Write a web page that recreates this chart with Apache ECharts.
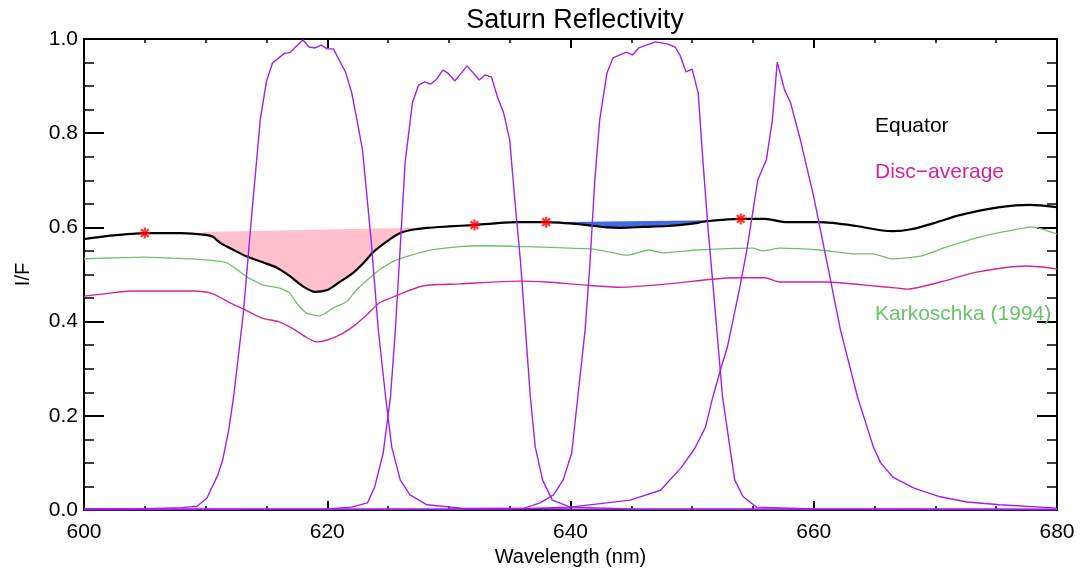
<!DOCTYPE html>
<html>
<head>
<meta charset="utf-8">
<title>Saturn Reflectivity</title>
<script src="https://cdn.jsdelivr.net/npm/echarts@6/dist/echarts.min.js"></script>
<style>
  html, body { margin: 0; padding: 0; background: #fff; }
  #chart { width: 1091px; height: 570px; }
</style>
</head>
<body>
<div id="chart"></div>
<script>
// ---- data: [wavelength (nm), I/F] ----
const equator = [
  [600, 0.575], [602, 0.582], [605, 0.588], [608, 0.588], [610, 0.584], [610.6, 0.580],
  [611.2, 0.567], [612.3, 0.552], [613.4, 0.538], [614.7, 0.526], [615.9, 0.514], [616.9, 0.497],
  [618.0, 0.475], [619.0, 0.463], [620.0, 0.467], [620.9, 0.482], [622.1, 0.503], [623.0, 0.525],
  [623.8, 0.548], [625.0, 0.572], [626.0, 0.588], [627.0, 0.595], [628.2, 0.599], [630.0, 0.602],
  [632.0, 0.605], [634.0, 0.609], [635.6, 0.611], [638.0, 0.611], [641.0, 0.606], [643.0, 0.600],
  [644.1, 0.599], [646.0, 0.601], [648.0, 0.603], [650.0, 0.608], [651.2, 0.613], [654.0, 0.618],
  [656.0, 0.618], [657.8, 0.611], [660.5, 0.611], [663.5, 0.603], [665.5, 0.594], [666.5, 0.592],
  [668.0, 0.596], [670.0, 0.610], [672.0, 0.626], [675.3, 0.643], [677.8, 0.648], [680, 0.643]
];

const discAverage = [
  [600, 0.454], [602, 0.460], [603.8, 0.465], [609.0, 0.465], [610.6, 0.459], [612.0, 0.440],
  [613.4, 0.423], [614.7, 0.407], [616.0, 0.400], [617.1, 0.386], [618.2, 0.368], [619.1, 0.357],
  [620.0, 0.361], [621.2, 0.374], [622.3, 0.393], [623.4, 0.418], [624.3, 0.440], [625.4, 0.452],
  [627.9, 0.476], [630.9, 0.480], [635.9, 0.486], [638.0, 0.484], [641.0, 0.478], [644.1, 0.473],
  [648.0, 0.480], [651.7, 0.490], [653.9, 0.493], [656.0, 0.493], [657.2, 0.484], [661.1, 0.484],
  [664.0, 0.478], [666.9, 0.471], [667.7, 0.469], [670.4, 0.484], [673.4, 0.505], [677.5, 0.518],
  [680, 0.512]
];

const karkoschka = [
  [600, 0.533], [602, 0.535], [604.9, 0.537], [607, 0.535], [610.1, 0.531], [611.8, 0.524],
  [613.4, 0.495], [614.7, 0.478], [616.1, 0.471], [616.9, 0.461], [617.5, 0.439], [618.3, 0.418],
  [619.4, 0.412], [620.5, 0.429], [621.6, 0.442], [622.4, 0.467], [623.5, 0.493], [624.3, 0.510],
  [625.7, 0.531], [628.2, 0.550], [630.9, 0.559], [633.0, 0.561], [636.4, 0.559], [639.0, 0.557],
  [641.9, 0.554], [644.7, 0.541], [646.4, 0.552], [647.6, 0.546], [650.4, 0.552], [655.0, 0.556],
  [655.8, 0.550], [657.2, 0.556], [660.5, 0.552], [663.2, 0.544], [664.9, 0.544], [666.4, 0.533],
  [668.8, 0.539], [671.0, 0.559], [673.4, 0.578], [675.9, 0.592], [678.0, 0.601], [680, 0.586]
];

// filter transmission curves (normalised)
const filter1 = [
  [600, 0.003], [605, 0.003], [608, 0.005], [609.3, 0.008], [610.1, 0.025], [611.0, 0.074],
  [611.4, 0.106], [611.9, 0.170], [612.3, 0.240], [613.1, 0.418], [613.8, 0.630], [614.5, 0.830],
  [615.0, 0.910], [615.5, 0.949], [616.5, 0.970], [616.9, 0.971], [618.0, 0.998], [618.5, 0.983],
  [619.0, 0.981], [619.5, 0.987], [620.0, 0.979], [620.5, 0.979], [621.5, 0.930], [622.0, 0.887],
  [622.4, 0.834], [622.9, 0.764], [623.6, 0.575], [624.2, 0.382], [624.8, 0.240], [625.3, 0.134],
  [626.0, 0.064], [626.8, 0.032], [628.2, 0.011], [631.0, 0.004], [640, 0.002], [680, 0.001]
];
const filter2 = [
  [600, 0.001], [620, 0.002], [622, 0.006], [623.3, 0.015], [623.9, 0.049], [624.6, 0.121],
  [625.2, 0.240], [625.6, 0.382], [626.0, 0.558], [626.4, 0.737], [627.0, 0.864], [627.5, 0.902],
  [628.0, 0.909], [628.5, 0.904], [629.0, 0.915], [629.5, 0.934], [629.9, 0.928], [630.5, 0.911],
  [631.5, 0.943], [632.5, 0.913], [633.0, 0.924], [633.5, 0.919], [634.0, 0.877], [634.5, 0.843],
  [635.0, 0.786], [635.4, 0.665], [635.9, 0.524], [636.3, 0.382], [636.7, 0.240], [637.1, 0.134],
  [637.7, 0.064], [638.5, 0.021], [640, 0.006], [645, 0.002], [680, 0.001]
];
const filter3 = [
  [600, 0.001], [630, 0.002], [636.2, 0.004], [637.5, 0.015], [638.6, 0.032], [639.4, 0.064],
  [640.1, 0.121], [640.6, 0.240], [641.2, 0.382], [641.6, 0.524], [642.0, 0.701], [642.4, 0.828],
  [643.0, 0.928], [643.5, 0.960], [644.6, 0.972], [645.1, 0.966], [645.6, 0.981], [647.0, 0.994],
  [648.0, 0.989], [648.6, 0.983], [649.0, 0.966], [649.5, 0.930], [650.0, 0.936], [650.5, 0.885],
  [650.9, 0.737], [651.3, 0.600], [651.8, 0.452], [652.5, 0.240], [653.1, 0.134], [653.5, 0.064],
  [654.2, 0.028], [655.3, 0.006], [660, 0.002], [680, 0.001]
];
const filter4 = [
  [600, 0.001], [635, 0.002], [640, 0.006], [644.9, 0.021], [647.4, 0.042], [649.1, 0.090],
  [650.2, 0.130], [651.1, 0.176], [651.7, 0.240], [652.5, 0.312], [652.9, 0.346], [653.9, 0.470],
  [654.5, 0.552], [655.4, 0.701], [656.1, 0.743], [656.6, 0.828], [657.0, 0.951], [657.6, 0.892],
  [658.1, 0.864], [658.9, 0.786], [660.0, 0.665], [661.1, 0.524], [662.2, 0.382], [663.6, 0.240],
  [664.9, 0.134], [665.5, 0.100], [666.5, 0.070], [668.2, 0.047], [670.4, 0.028], [672.6, 0.017],
  [675.3, 0.011], [680, 0.004]
];

// continuum points on the equator spectrum
const sampledPoints = [[605.0, 0.588], [632.1, 0.605], [638.0, 0.611], [654.0, 0.618]];

// straight continuum edges bounding the absorption bands
const bandRed = [[609.8, 0.590], [628.3, 0.600]];
const bandBlue = [[638.0, 0.611], [651.6, 0.615]];

const xTicks = [600, 620, 640, 660, 680];
const yTicks = [0.0, 0.2, 0.4, 0.6, 0.8, 1.0];

// ---- styling ----
const FONT = 'Liberation Sans, Arial, Helvetica, sans-serif';
const C_EQ = '#000000';
const C_DISC = '#d4249b';
const C_KARK = '#6cc26c';
const C_FILTER = '#a020f0';

function interpEquator(x) {
  for (let i = 0; i < equator.length - 1; i++) {
    const a = equator[i], b = equator[i + 1];
    if (x >= a[0] && x <= b[0]) {
      return a[1] + (b[1] - a[1]) * (x - a[0]) / (b[0] - a[0]);
    }
  }
  return equator[equator.length - 1][1];
}

// polygon between a straight continuum edge and the equator spectrum
function bandSeries(edge, color) {
  return {
    type: 'custom',
    coordinateSystem: 'cartesian2d',
    silent: true,
    z: 1,
    data: [[edge[0][0], edge[0][1], edge[1][0], edge[1][1]]],
    renderItem: function (params, api) {
      const x0 = edge[0][0], x1 = edge[1][0];
      const pts = [api.coord(edge[0]), api.coord(edge[1])];
      pts.push(api.coord([x1, interpEquator(x1)]));
      for (let i = equator.length - 1; i >= 0; i--) {
        const p = equator[i];
        if (p[0] > x0 && p[0] < x1) pts.push(api.coord(p));
      }
      pts.push(api.coord([x0, interpEquator(x0)]));
      return { type: 'polygon', shape: { points: pts }, style: { fill: color } };
    }
  };
}

function lineSeries(data, color, width, z, smooth) {
  return {
    type: 'line', data: data, showSymbol: false, symbol: 'none', smooth: smooth || false,
    lineStyle: { color: color, width: width }, z: z, silent: true, animation: false
  };
}

const asterisk = 'path://M-5,-1L5,-1L5,1L-5,1Z M-1,-5L1,-5L1,5L-1,5Z ' +
  'M-4.2,-2.8L-2.8,-4.2L4.2,2.8L2.8,4.2Z M2.8,-4.2L4.2,-2.8L-2.8,4.2L-4.2,2.8Z';

const axisCommon = {
  type: 'value',
  axisLine: { show: true, onZero: false, lineStyle: { color: '#000', width: 2 } },
  splitLine: { show: false }
};

const chart = echarts.init(document.getElementById('chart'), null, { renderer: 'canvas' });

chart.setOption({
  animation: false,
  backgroundColor: '#fff',
  title: {
    text: 'Saturn Reflectivity', left: 570, top: 2, textAlign: 'center',
    textStyle: { fontFamily: FONT, fontSize: 27, fontWeight: 'normal', color: '#000' }
  },
  grid: { left: 84, right: 34, top: 39, bottom: 60, containLabel: false, outerBoundsMode: 'none' },
  xAxis: [
    Object.assign({}, axisCommon, {
      position: 'bottom', min: xTicks[0], max: xTicks[xTicks.length - 1], interval: 20,
      name: 'Wavelength (nm)', nameLocation: 'middle', nameGap: 32,
      nameTextStyle: { fontFamily: FONT, fontSize: 20, color: '#000' },
      axisTick: { show: true, inside: true, length: 9, lineStyle: { color: '#000', width: 2 } },
      minorTick: { show: true, splitNumber: 4, length: 4, lineStyle: { color: '#000', width: 1.5 } },
      axisLabel: { fontFamily: FONT, fontSize: 21, color: '#000', margin: 12 }
    }),
    Object.assign({}, axisCommon, {
      position: 'top', min: xTicks[0], max: xTicks[xTicks.length - 1], interval: 20,
      axisTick: { show: true, inside: true, length: 9, lineStyle: { color: '#000', width: 2 } },
      minorTick: { show: true, splitNumber: 4, length: 4, lineStyle: { color: '#000', width: 1.5 } },
      axisLabel: { show: false }
    })
  ],
  yAxis: [
    Object.assign({}, axisCommon, {
      position: 'left', min: yTicks[0], max: yTicks[yTicks.length - 1], interval: 0.2,
      name: 'I/F', nameLocation: 'middle', nameGap: 51,
      nameTextStyle: { fontFamily: FONT, fontSize: 20, color: '#000' },
      axisTick: { show: true, inside: true, length: 20, lineStyle: { color: '#000', width: 2 } },
      minorTick: { show: true, splitNumber: 4, length: 10, lineStyle: { color: '#000', width: 1.5 } },
      axisLabel: { fontFamily: FONT, fontSize: 21, color: '#000', margin: 6,
        formatter: v => v.toFixed(1) }
    }),
    Object.assign({}, axisCommon, {
      position: 'right', min: yTicks[0], max: yTicks[yTicks.length - 1], interval: 0.2,
      axisTick: { show: true, inside: true, length: 20, lineStyle: { color: '#000', width: 2 } },
      minorTick: { show: true, splitNumber: 4, length: 10, lineStyle: { color: '#000', width: 1.5 } },
      axisLabel: { show: false }
    })
  ],
  series: [
    bandSeries(bandRed, '#ffc0cb'),
    bandSeries(bandBlue, '#4169e1'),
    lineSeries(karkoschka, C_KARK, 1.3, 3, 0.15),
    lineSeries(discAverage, C_DISC, 1.4, 3, 0.25),
    lineSeries(equator, C_EQ, 2.2, 4, 0.25),
    lineSeries(filter1, C_FILTER, 1.4, 5),
    lineSeries(filter2, C_FILTER, 1.4, 5),
    lineSeries(filter3, C_FILTER, 1.4, 5),
    lineSeries(filter4, C_FILTER, 1.4, 5),
    {
      type: 'scatter', data: sampledPoints, symbol: asterisk, symbolSize: 11,
      itemStyle: { color: '#ff0000' }, z: 6, silent: true
    }
  ],
  graphic: [
    { type: 'text', left: 875, top: 116, z: 10,
      style: { text: 'Equator', fill: C_EQ, font: '21px ' + FONT } },
    { type: 'text', left: 875, top: 162, z: 10,
      style: { text: 'Disc\u2212average', fill: C_DISC, font: '21px ' + FONT } },
    { type: 'text', left: 875, top: 304, z: 10,
      style: { text: 'Karkoschka (1994)', fill: C_KARK, font: '21px ' + FONT } }
  ]
});
</script>
</body>
</html>
